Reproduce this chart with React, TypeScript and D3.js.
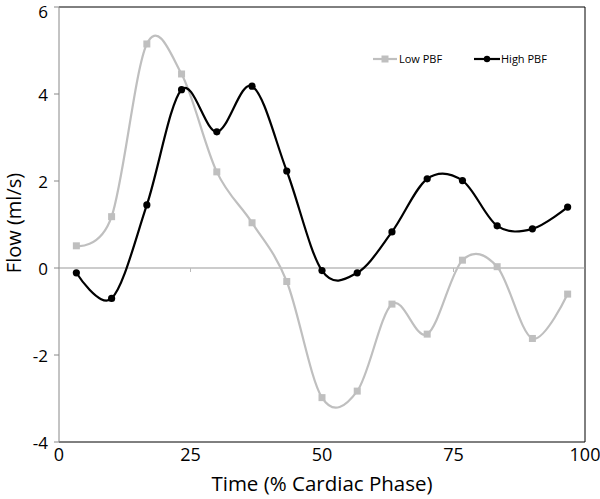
import React from 'react'
import * as d3 from 'd3'

// phase (% of cardiac cycle), 15 frames
const phase = [3.3, 10, 16.7, 23.3, 30, 36.7, 43.3, 50, 56.7, 63.3, 70, 76.7, 83.3, 90, 96.7]
const lowPBF = [0.51, 1.18, 5.15, 4.46, 2.21, 1.04, -0.31, -2.98, -2.83, -0.83, -1.52, 0.18, 0.03, -1.62, -0.6]
const highPBF = [-0.11, -0.7, 1.45, 4.1, 3.13, 4.18, 2.23, -0.06, -0.11, 0.83, 2.05, 2.01, 0.97, 0.9, 1.4]
const xTicks = [0, 25, 50, 75, 100]
const yTicks = [-4, -2, 0, 2, 4, 6]

const W = 600
const H = 499
const font = "'Open Sans', 'DejaVu Sans', sans-serif"

export default function App() {
  const x = d3.scaleLinear().domain([0, 100]).range([59, 585])
  const y = d3.scaleLinear().domain([-4, 6]).range([442, 7])

  const line = d3
    .line<number>()
    .x((d, i) => x(phase[i]))
    .y(d => y(d))
    .curve(d3.curveCardinal.tension(0))

  return (
    <svg width={W} height={H} style={{ position: 'absolute', left: 0, top: 0, background: '#fff' }}>
      {/* plot frame */}
      <line x1={x(0)} x2={x(100)} y1={y(6)} y2={y(6)} stroke="#000" strokeWidth={1} />
      <line x1={x(100)} x2={x(100)} y1={y(6)} y2={y(-4)} stroke="#000" strokeWidth={1} />
      <line x1={x(0)} x2={x(100)} y1={y(-4)} y2={y(-4)} stroke="#000" strokeWidth={1} />

      {/* y axis */}
      <line x1={x(0)} x2={x(0)} y1={y(6)} y2={y(-4)} stroke="#888" strokeWidth={1} />
      {yTicks.map(t => (
        <g key={t}>
          <line x1={x(0) - 5} x2={x(0)} y1={y(t)} y2={y(t)} stroke="#888" />
          <text x={48} y={Math.max(y(t) + 1.5, 12)} dy="0.35em" textAnchor="end" fontFamily={font} fontSize={17} fill="#000">
            {t}
          </text>
        </g>
      ))}

      {/* x axis at zero */}
      <line x1={x(0)} x2={x(100)} y1={y(0)} y2={y(0)} stroke="#999" strokeWidth={1} />
      {xTicks.slice(1, -1).map(t => (
        <line key={t} x1={x(t)} x2={x(t)} y1={y(0)} y2={y(0) + 4} stroke="#bbb" />
      ))}
      {xTicks.map(t => (
        <text key={t} x={x(t)} y={y(-4) + 19} textAnchor="middle" fontFamily={font} fontSize={18} fill="#000">
          {t}
        </text>
      ))}

      {/* axis titles */}
      <text x={322} y={491} textAnchor="middle" fontFamily={font} fontSize={20.5} fill="#000">
        Time (% Cardiac Phase)
      </text>
      <text transform={`translate(21,223) rotate(-90)`} textAnchor="middle" fontFamily={font} fontSize={20} fill="#000">
        Flow (ml/s)
      </text>

      {/* series */}
      <path d={line(lowPBF) ?? ''} fill="none" stroke="#bfbfbf" strokeWidth={2.2} />
      {lowPBF.map((v, i) => (
        <rect key={i} x={x(phase[i]) - 3.5} y={y(v) - 3.5} width={7} height={7} fill="#bfbfbf" />
      ))}
      <path d={line(highPBF) ?? ''} fill="none" stroke="#000" strokeWidth={2.2} />
      {highPBF.map((v, i) => (
        <circle key={i} cx={x(phase[i])} cy={y(v)} r={3.6} fill="#000" />
      ))}

      {/* legend */}
      <g fontFamily={font} fontSize={11} fill="#000">
        <line x1={373} x2={397} y1={59} y2={59} stroke="#bfbfbf" strokeWidth={2.2} />
        <rect x={381.5} y={55.5} width={7} height={7} fill="#bfbfbf" />
        <text x={399} y={59} dy="0.35em">Low PBF</text>
        <line x1={474} x2={500} y1={59} y2={59} stroke="#000" strokeWidth={2.2} />
        <circle cx={487} cy={59} r={3.2} fill="#000" />
        <text x={501} y={59} dy="0.35em">High PBF</text>
      </g>
    </svg>
  )
}
